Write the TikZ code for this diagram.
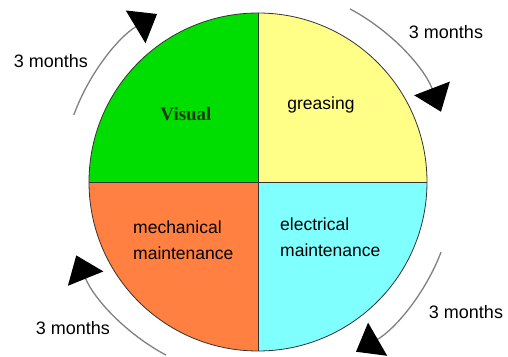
\documentclass[tikz,border=0pt]{standalone}
\usepackage{fontspec}
\setmainfont{Liberation Sans}
\newfontfamily\visfont{Liberation Serif}
\usetikzlibrary{arrows.meta}
\definecolor{cgreen}{HTML}{00DD00}
\definecolor{cyellow}{HTML}{FFFF88}
\definecolor{corange}{HTML}{FF8040}
\definecolor{ccyan}{HTML}{80FFFF}
\definecolor{cline}{HTML}{333333}
\definecolor{carc}{HTML}{808080}
\definecolor{cvis}{HTML}{1E3A10}
\begin{document}
\begin{tikzpicture}[x=1pt,y=1pt,
  sector/.style={draw=cline,line width=0.8pt},
  cyc/.style={draw=carc,line width=1.3pt,-{Triangle[length=25pt,width=38pt,color=black]}},
  lbl/.style={font=\fontsize{17.5}{26}\selectfont,text=black,inner sep=0pt},
  months/.style={font=\fontsize{18}{20}\selectfont,inner sep=0pt}]
\useasboundingbox (0,0) rectangle (508,356);
\coordinate (c) at (258,174);
\def\R{169}
\fill[cgreen] (c) -- ++(180:\R) arc[start angle=180,end angle=90,radius=\R] -- cycle;
\fill[cyellow] (c) -- ++(90:\R) arc[start angle=90,end angle=0,radius=\R] -- cycle;
\fill[ccyan] (c) -- ++(0:\R) arc[start angle=0,end angle=-90,radius=\R] -- cycle;
\fill[corange] (c) -- ++(-90:\R) arc[start angle=-90,end angle=-180,radius=\R] -- cycle;
\draw[sector] (c) circle[radius=\R];
\draw[sector] (c) ++(180:\R) -- ++(2*\R,0);
\draw[sector] (c) ++(90:\R) -- ++(0,-2*\R);
% cycle arrows
\draw[cyc] (c) ++(160:196) arc[start angle=160,end angle=121,radius=196];
\draw[cyc] (c) ++(62:196) arc[start angle=62,end angle=21,radius=196];
\draw[cyc] (c) ++(-21:196) arc[start angle=-21,end angle=-60,radius=196];
\draw[cyc] (c) ++(242:196) arc[start angle=242,end angle=202,radius=196];
% labels
\node[months] (m1) at (51,295) {3 months};
\node[months] (m2) at (446,324) {3 months};
\node[months] (m3) at (73,28) {3 months};
\node[months] (m4) at (466,44) {3 months};
\node[inner sep=0pt,font=\visfont\bfseries\fontsize{19}{22}\selectfont,text=cvis] (v) at (186,242) {Visual};
\node[lbl] (g) at (321,251) {greasing};
\node[lbl,anchor=west,align=left] (mm) at (133,116) {mechanical\\maintenance};
\node[lbl,anchor=west,align=left] (em) at (280,119) {electrical\\maintenance};
\end{tikzpicture}
\end{document}
